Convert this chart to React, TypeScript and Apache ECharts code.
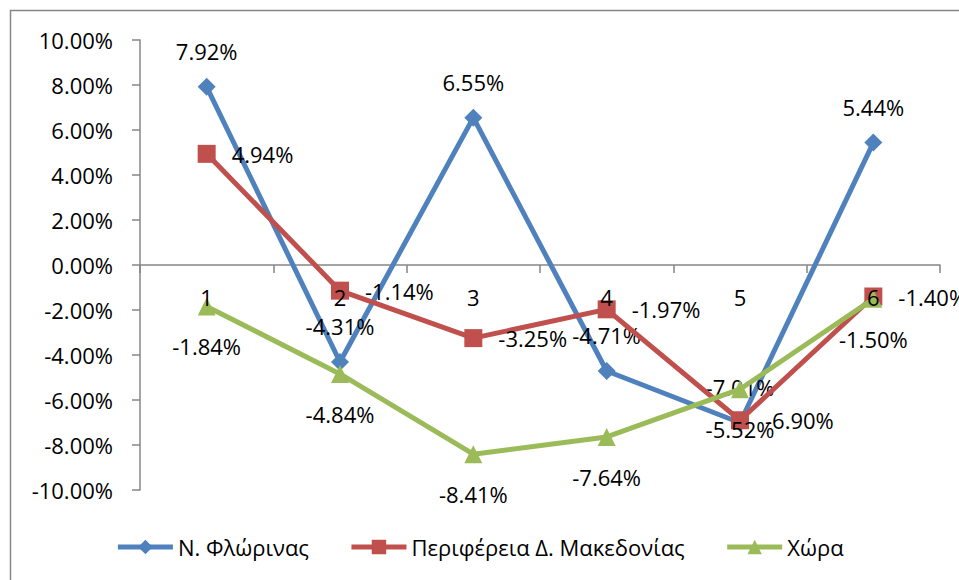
import React, { useEffect, useRef } from "react";
import * as echarts from "echarts";

const categories = ["1", "2", "3", "4", "5", "6"];
const florina = [7.92, -4.31, 6.55, -4.71, -7.01, 5.44];
const region = [4.94, -1.14, -3.25, -1.97, -6.9, -1.4];
const country = [-1.84, -4.84, -8.41, -7.64, -5.52, -1.5];
const seriesNames = ["Ν. Φλώρινας", "Περιφέρεια Δ. Μακεδονίας", "Χώρα"];

const FONT = "'Open Sans', 'Noto Sans', sans-serif";
const AXIS_COLOR = "#868686";
const FS = 22;

export default function App() {
  const ref = useRef<HTMLDivElement>(null);
  useEffect(() => {
    if (!ref.current) return;
    const chart = echarts.init(ref.current, undefined, { renderer: "svg" });
    const pct = (p: any) => Number(p.value).toFixed(2) + "%";
    const label = (position: string, distance: number) => ({
      show: true,
      position,
      distance,
      formatter: pct,
      color: "#000",
      fontFamily: FONT,
      fontSize: FS,
    });
    chart.setOption({
      animation: false,
      backgroundColor: "#fff",
      textStyle: { fontFamily: FONT },
      graphic: [
        {
          type: "rect",
          shape: { x: 10.5, y: 10.5, width: 980, height: 600 },
          style: { fill: "none", stroke: AXIS_COLOR, lineWidth: 1.5 },
          silent: true,
          z: -1,
        },
      ],
      grid: { left: 140, right: 19, top: 40, bottom: 90 },
      legend: {
        top: 531,
        left: "center",
        itemWidth: 55,
        itemHeight: 18,
        itemGap: 40,
        lineStyle: { width: 5 },
        textStyle: { fontFamily: FONT, fontSize: FS, color: "#000" },
        data: seriesNames,
      },
      xAxis: [
        {
          type: "category",
          data: categories,
          boundaryGap: true,
          position: "bottom",
          offset: -225,
          axisLine: { onZero: false, lineStyle: { color: AXIS_COLOR, width: 1.5 } },
          axisTick: { show: true, length: 8, lineStyle: { color: AXIS_COLOR, width: 1.5 } },
          axisLabel: { show: false },
          splitLine: { show: false },
        },
        {
          type: "category",
          data: categories,
          boundaryGap: true,
          position: "bottom",
          offset: -225,
          z: 20,
          axisLine: { show: false, onZero: false },
          axisTick: { show: false },
          axisLabel: { margin: 21, color: "#000", fontFamily: FONT, fontSize: FS },
          splitLine: { show: false },
        },
      ],
      yAxis: {
        type: "value",
        min: -10,
        max: 10,
        interval: 2,
        axisLine: { show: true, lineStyle: { color: AXIS_COLOR, width: 1.5 } },
        axisTick: { show: true, length: 8, lineStyle: { color: AXIS_COLOR, width: 1.5 } },
        axisLabel: {
          margin: 27,
          color: "#000",
          fontFamily: FONT,
          fontSize: FS,
          formatter: (v: number) => v.toFixed(2) + "%",
        },
        splitLine: { show: false },
      },
      series: [
        {
          name: seriesNames[0],
          type: "line",
          data: florina,
          xAxisIndex: 0,
          symbol: "diamond",
          symbolSize: 18,
          color: "#4F81BD",
          lineStyle: { width: 5, color: "#4F81BD" },
          itemStyle: { color: "#4F81BD" },
          label: label("top", 16),
          z: 2,
        },
        {
          name: seriesNames[1],
          type: "line",
          data: region,
          xAxisIndex: 0,
          symbol: "rect",
          symbolSize: 18,
          color: "#C0504D",
          lineStyle: { width: 5, color: "#C0504D" },
          itemStyle: { color: "#C0504D" },
          label: label("right", 16),
          z: 3,
        },
        {
          name: seriesNames[2],
          type: "line",
          data: country,
          xAxisIndex: 0,
          symbol: "triangle",
          symbolSize: 18,
          color: "#9BBB59",
          lineStyle: { width: 5, color: "#9BBB59" },
          itemStyle: { color: "#9BBB59" },
          label: label("bottom", 20),
          z: 4,
        },
      ],
    });
    return () => chart.dispose();
  }, []);
  return (
    <div
      ref={ref}
      style={{ position: "fixed", left: 0, top: 0, width: 959, height: 580 }}
    />
  );
}
